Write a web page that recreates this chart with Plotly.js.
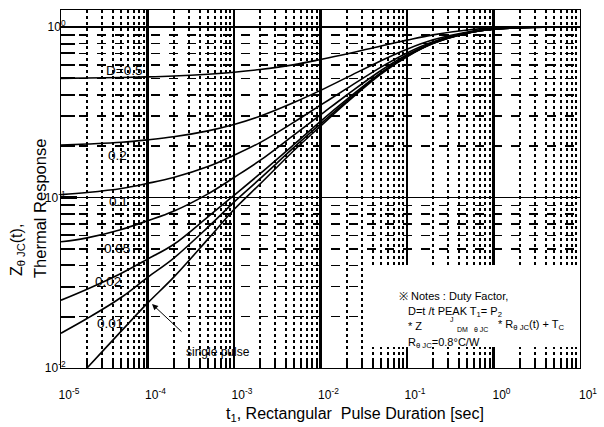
<!DOCTYPE html>
<html><head><meta charset="utf-8">
<script src="https://cdn.plot.ly/plotly-3.0.1.min.js"></script>
<style>html,body{margin:0;padding:0;background:#fff}#chart{width:604px;height:427px}</style>
</head><body><div id="chart"></div>
<script>
// pulse duration t1 [sec]
const pulseDuration = [1e-5, 2e-5, 5e-5, 1e-4, 2e-4, 5e-4, 1e-3, 2e-3, 5e-3, 1e-2, 2e-2, 5e-2, 0.1, 0.2, 0.5, 1, 2, 5, 10];
// normalized thermal response
const zD05   = [0.500, 0.502, 0.506, 0.510, 0.516, 0.529, 0.543, 0.563, 0.602, 0.645, 0.695, 0.775, 0.838, 0.90, 0.96, 0.985, 0.995, 1.0, 1.0];
const zD02   = [0.203, 0.206, 0.211, 0.218, 0.227, 0.246, 0.268, 0.300, 0.362, 0.425, 0.505, 0.635, 0.742, 0.842, 0.936, 0.976, 0.992, 1.0, 1.0];
const zD01   = [0.104, 0.107, 0.113, 0.121, 0.131, 0.152, 0.177, 0.210, 0.278, 0.348, 0.435, 0.582, 0.705, 0.82, 0.928, 0.973, 0.991, 1.0, 1.0];
const zD005  = [0.055, 0.058, 0.065, 0.073, 0.083, 0.105, 0.131, 0.165, 0.234, 0.305, 0.398, 0.556, 0.688, 0.81, 0.924, 0.972, 0.99, 1.0, 1.0];
const zD002  = [0.025, 0.029, 0.036, 0.0435, 0.053, 0.077, 0.103, 0.138, 0.206, 0.280, 0.375, 0.540, 0.677, 0.804, 0.922, 0.971, 0.99, 1.0, 1.0];
const zD001  = [0.0160, 0.0195, 0.026, 0.034, 0.044, 0.067, 0.094, 0.129, 0.198, 0.270, 0.366, 0.535, 0.673, 0.802, 0.921, 0.971, 0.99, 1.0, 1.0];
const zSingle = [0.0068, 0.010, 0.0165, 0.024, 0.034, 0.057, 0.085, 0.120, 0.190, 0.262, 0.360, 0.530, 0.670, 0.80, 0.92, 0.970, 0.99, 1.0, 1.0];
const seriesNames = ['D=0.5', '0.2', '0.1', '0.05', '0.02', '0.01', 'single pulse'];
const seriesValues = [zD05, zD02, zD01, zD005, zD002, zD001, zSingle];

const xTickVals = [1e-5, 1e-4, 1e-3, 1e-2, 1e-1, 1, 10];
const xTickText = ['10<sup>-5</sup>', '10<sup>-4</sup>', '10<sup>-3</sup>', '10<sup>-2</sup>', '10<sup>-1</sup>', '10<sup>0</sup>', '10<sup>1</sup>'];
const yTickVals = [0.01, 0.1, 1];
const yTickText = ['10<sup>-2</sup>', '10<sup>-1</sup>', '10<sup>0</sup>'];
const xTitle = 't<sub>1</sub>, Rectangular  Pulse Duration [sec]';
const yTitleLine1 = 'Z<sub>θ JC</sub>(t),';
const yTitleLine2 = 'Thermal Response';

function minorVals(lo, hi) {
  const out = [];
  for (let e = lo; e < hi; e++) for (let m = 2; m <= 9; m++) out.push(m * Math.pow(10, e));
  return out;
}

const FONT = 'Liberation Sans, Arial, sans-serif';
const traces = seriesValues.map((v, i) => ({
  x: pulseDuration, y: v, name: seriesNames[i], type: 'scatter', mode: 'lines',
  line: {color: '#000', width: 1.6, shape: 'spline'}, showlegend: false, hoverinfo: 'skip'
}));

function P(px, py) { return {x: (px - 61) / 519, y: (368 - py) / 358}; }
function lab(text, px, py, size, xanchor, angle) {
  const p = P(px, py);
  const a = {text: text, x: p.x, y: p.y, xref: 'paper', yref: 'paper', showarrow: false,
    xanchor: xanchor || 'center', yanchor: 'middle', font: {family: FONT, size: size || 13, color: '#000'}};
  if (angle !== undefined) a.textangle = angle;
  return a;
}
const arrowTip = P(152, 304);
const box0 = P(365, 347), box1 = P(578, 265);

const annotations = [
  lab('D=0.5', 124, 71, 13.5),
  lab('0.2', 117, 155, 13.5),
  lab('0.1', 118, 201, 13.5),
  lab('0.05', 117, 248, 13.5),
  lab('0.02', 108, 281, 13.5),
  lab('0.01', 110, 323, 13.5),
  lab('single pulse', 218, 352, 12),
  {x: arrowTip.x, y: arrowTip.y, xref: 'paper', yref: 'paper', text: '', showarrow: true,
   ax: 31, ay: 29, arrowhead: 2, arrowsize: 1.2, arrowwidth: 1, arrowcolor: '#000'},
  lab('※ Notes : Duty Factor,', 397, 296, 11, 'left'),
  lab('D=t /t PEAK T<sub>1</sub>= P<sub>2</sub>', 406, 312, 11, 'left'),
  lab('* Z', 406, 326, 11, 'left'),
  lab('J', 452, 319, 7),
  lab('DM', 462, 329, 7),
  lab('θ JC', 481, 329, 7),
  lab('* R<sub>θ JC</sub>(t) + T<sub>C</sub>', 496, 325, 11, 'left'),
  lab('R<sub>θ JC</sub>=0.8°C/W', 406, 343, 11, 'left'),
  lab(xTitle, 355, 414, 16),
  lab(yTitleLine1, 18, 250, 16, 'center', -90),
  lab(yTitleLine2, 40, 209, 16.5, 'center', -90)
];

const layout = {
  width: 604, height: 427,
  margin: {l: 61, r: 24, t: 10, b: 59},
  paper_bgcolor: '#fff', plot_bgcolor: '#fff',
  font: {family: FONT, color: '#000', size: 12},
  showlegend: false,
  xaxis: {
    type: 'log', range: [-5, 1],
    tickmode: 'array', tickvals: xTickVals, ticktext: xTickText,
    ticks: 'inside', ticklen: 8, tickwidth: 2, tickcolor: '#000',
    ticklabelstandoff: 16, ticklabelshift: 8,
    showgrid: true, gridcolor: '#000', gridwidth: 2.5,
    showline: true, mirror: true, linecolor: '#000', linewidth: 1,
    tickfont: {family: FONT, size: 12, color: '#000'},
    minor: {tickmode: 'array', tickvals: minorVals(-5, 1), ticks: 'inside', ticklen: 7, tickwidth: 2, tickcolor: '#000',
            showgrid: true, gridcolor: '#000', gridwidth: 2, griddash: 'dot'},
    zeroline: false
  },
  yaxis: {
    type: 'log', range: [-2, 0.1],
    tickmode: 'array', tickvals: yTickVals, ticktext: yTickText,
    ticks: 'inside', ticklen: 16, tickwidth: 2.5, tickcolor: '#000',
    ticklabelstandoff: -8,
    showgrid: true, gridcolor: '#000', gridwidth: 1.5,
    showline: true, mirror: true, linecolor: '#000', linewidth: 1,
    tickfont: {family: FONT, size: 12, color: '#000'},
    minor: {tickmode: 'array', tickvals: minorVals(-2, 1), ticks: 'inside', ticklen: 14, tickwidth: 2, tickcolor: '#000',
            showgrid: true, gridcolor: '#000', gridwidth: 1.5, griddash: 'dash'},
    zeroline: false
  },
  shapes: [
    {type: 'rect', xref: 'paper', yref: 'paper', x0: box0.x, x1: box1.x, y0: box0.y, y1: box1.y,
     fillcolor: '#fff', line: {width: 0}, layer: 'above'}
  ],
  annotations: annotations
};

Plotly.newPlot('chart', traces, layout, {staticPlot: true, displayModeBar: false});
</script>
</body></html>
